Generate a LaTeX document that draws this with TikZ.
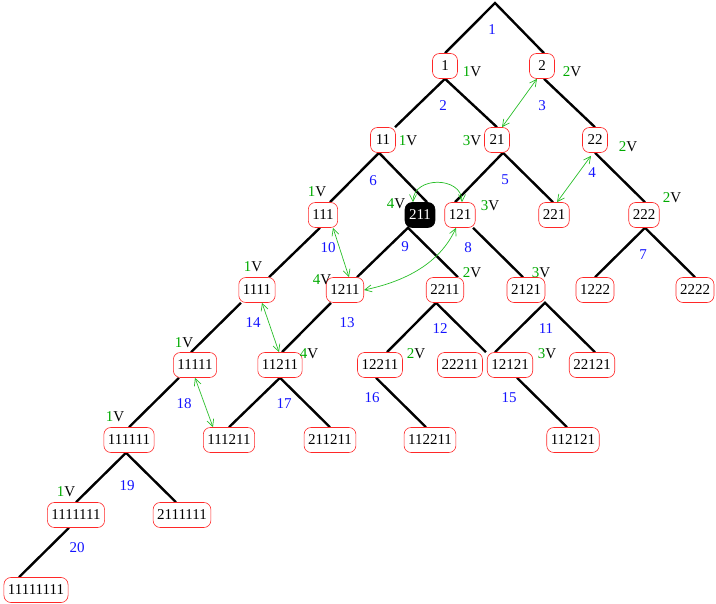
\documentclass[tikz,border=0pt]{standalone}
\usepackage{fontspec}
\setmainfont{Liberation Serif}
\usetikzlibrary{arrows.meta}
\pgfdeclarelayer{background}
\pgfsetlayers{background,main}
\definecolor{tgreen}{RGB}{0,170,0}
\definecolor{agreen}{RGB}{40,190,40}
\definecolor{tblue}{RGB}{20,20,255}
\definecolor{bred}{RGB}{255,40,40}
\newcommand\vlab[1]{\textcolor{tgreen}{#1}V}
\begin{document}
\begin{tikzpicture}[x=1pt,y=-1pt,
  every node/.style={font=\fontsize{15}{18}\selectfont},
  box/.style={draw=bred, line width=0.6pt, rounded corners=7pt, fill=white,
    minimum height=25pt, minimum width=25pt, inner xsep=4pt, inner ysep=0pt, text=black},
  hbox/.style={box, draw=black, fill=black, text=white},
  tline/.style={line width=2.4pt, black},
  num/.style={text=tblue, inner sep=0pt},
  vl/.style={inner sep=0pt},
  garrow/.style={agreen, line width=0.7pt,
    {Straight Barb[length=7pt,width=7pt]}-{Straight Barb[length=7pt,width=7pt]}}
]
\useasboundingbox (0,0) rectangle (716,604);

% nodes
\node[box] (n1) at (445,66) {1};
\node[box] (n2) at (542,66) {2};
\node[box] (n11) at (383,140) {11};
\node[box] (n21) at (497,140) {21};
\node[box] (n22) at (595,140) {22};
\node[box] (n111) at (323,215) {111};
\node[vl] (v211) at (396,204) {\vlab{4}};
\node[hbox] (n211) at (420,215) {211};
\node[box] (n121) at (460,215) {121};
\node[box] (n221) at (554,215) {221};
\node[box] (n222) at (644,215) {222};
\node[box] (n1111) at (257,290) {1111};
\node[box] (n1211) at (345,290) {1211};
\node[box] (n2211) at (445,290) {2211};
\node[box] (n2121) at (526,290) {2121};
\node[box] (n1222) at (595,290) {1222};
\node[box] (n2222) at (695,290) {2222};
\node[box] (n11111) at (195,365) {11111};
\node[box] (n11211) at (280,365) {11211};
\node[box] (n12211) at (380,365) {12211};
\node[box] (n22211) at (460,365) {22211};
\node[box] (n12121) at (510,365) {12121};
\node[box] (n22121) at (592,365) {22121};
\node[box] (n111111) at (129,440) {111111};
\node[box] (n111211) at (229,440) {111211};
\node[box] (n211211) at (330,440) {211211};
\node[box] (n112211) at (430,440) {112211};
\node[box] (n112121) at (573,440) {112121};
\node[box] (n1111111) at (76,515) {1111111};
\node[box] (n2111111) at (182,515) {2111111};
\node[box] (n11111111) at (36,590) {11111111};
\coordinate (root) at (495,3);

% tree edges
\begin{pgfonlayer}{background}
\draw[tline] (n1.north) -- (root) -- ([xshift=2pt]n2.north);
\draw[tline] ([xshift=12pt]n11.north) -- (n1.south) -- (n21.north);
\draw[tline] ([xshift=2pt]n2.south) -- (n22.north);
\draw[tline] ([xshift=7pt]n111.north) -- ([xshift=-4pt]n11.south) -- ([xshift=7pt]n211.north);
\draw[tline] ([xshift=-5pt]n121.north) -- ([xshift=6pt]n21.south) -- ([xshift=-1pt]n221.north);
\draw[tline] (n22.south) -- ([xshift=1pt]n222.north);
\draw[tline] (n1222.north) -- ([xshift=1pt]n222.south) -- (n2222.north);
\draw[tline] ([xshift=-3pt]n111.south) -- ([xshift=12pt]n1111.north);
\draw[tline] ([xshift=12pt]n1211.north) -- ([xshift=-12pt]n211.south) -- ([xshift=13pt]n2211.north);
\draw[tline] ([xshift=13pt]n121.south) -- ([xshift=-3pt]n2121.north);
\draw[tline] ([xshift=-16pt]n1111.south) -- ([xshift=-4pt]n11111.north);
\draw[tline] ([xshift=-14pt]n1211.south) -- ([xshift=2pt]n11211.north);
\draw[tline] ([xshift=7pt]n12211.north) -- ([xshift=-9pt]n2211.south) -- ([xshift=26pt]n22211.north);
\draw[tline] ([xshift=-15pt]n12121.north) -- ([xshift=19pt]n2121.south) -- ([xshift=3pt]n22121.north);
\draw[tline] ([xshift=-16pt]n11111.south) -- (n111111.north);
\draw[tline] (n111211.north) -- (n11211.south) -- (n211211.north);
\draw[tline] ([xshift=-4pt]n12211.south) -- ([xshift=-4pt]n112211.north);
\draw[tline] ([xshift=7pt]n12121.south) -- ([xshift=-6pt]n112121.north);
\draw[tline] (n1111111.north) -- ([xshift=-3pt]n111111.south) -- ([xshift=-6pt]n2111111.north);
\draw[tline] ([xshift=-7pt]n1111111.south) -- ([xshift=-17pt]n11111111.north);
\end{pgfonlayer}

% blue step numbers
\node[num] (s1) at (492,30) {1};
\node[num] (s2) at (443,106) {2};
\node[num] (s3) at (542,106) {3};
\node[num] (s4) at (592,173) {4};
\node[num] (s5) at (505,180) {5};
\node[num] (s6) at (373,181) {6};
\node[num] (s7) at (643,255) {7};
\node[num] (s8) at (468,248) {8};
\node[num] (s9) at (405,247) {9};
\node[num] (s10) at (328,248) {10};
\node[num] (s11) at (546,329) {11};
\node[num] (s12) at (440,329) {12};
\node[num] (s13) at (347,323) {13};
\node[num] (s14) at (253,323) {14};
\node[num] (s15) at (509,398) {15};
\node[num] (s16) at (372,398) {16};
\node[num] (s17) at (284,404) {17};
\node[num] (s18) at (184,404) {18};
\node[num] (s19) at (127,486) {19};
\node[num] (s20) at (77,548) {20};

% V labels
\node[vl] (v1) at (472,72) {\vlab{1}};
\node[vl] (v2) at (572,72) {\vlab{2}};
\node[vl] (v11) at (408,141) {\vlab{1}};
\node[vl] (v21) at (472,141) {\vlab{3}};
\node[vl] (v22) at (628,147) {\vlab{2}};
\node[vl] (v111) at (317,192) {\vlab{1}};
\node[vl] (v121) at (490,206) {\vlab{3}};
\node[vl] (v222) at (672,198) {\vlab{2}};
\node[vl] (v1111) at (253,267) {\vlab{1}};
\node[vl] (v1211) at (322,280) {\vlab{4}};
\node[vl] (v2211) at (472,273) {\vlab{2}};
\node[vl] (v2121) at (541,273) {\vlab{3}};
\node[vl] (v11111) at (184,343) {\vlab{1}};
\node[vl] (v11211) at (309,354) {\vlab{4}};
\node[vl] (v12211) at (416,354) {\vlab{2}};
\node[vl] (v12121) at (547,354) {\vlab{3}};
\node[vl] (v111111) at (115,417) {\vlab{1}};
\node[vl] (v1111111) at (66,492) {\vlab{1}};

% green double arrows
\draw[garrow] ([xshift=-5pt]n2.south) -- ([xshift=5pt]n21.north);
\draw[garrow] ([shift={(-4,3)}]n22.south) -- ([xshift=3pt]n221.north);
\draw[garrow] ([xshift=-7pt]n211.north) .. controls (413,176) and (462,176) .. ([xshift=2pt]n121.north);
\draw[garrow] ([xshift=10pt]n111.south) -- ([xshift=4pt]n1211.north);
\draw[garrow] (n1211.east) .. controls (412,280) and (442,259) .. ([xshift=-4pt]n121.south);
\draw[garrow] ([xshift=5pt]n1111.south) -- ([xshift=-1pt]n11211.north);
\draw[garrow] (n11111.south) -- ([xshift=-16pt]n111211.north);
\end{tikzpicture}
\end{document}
